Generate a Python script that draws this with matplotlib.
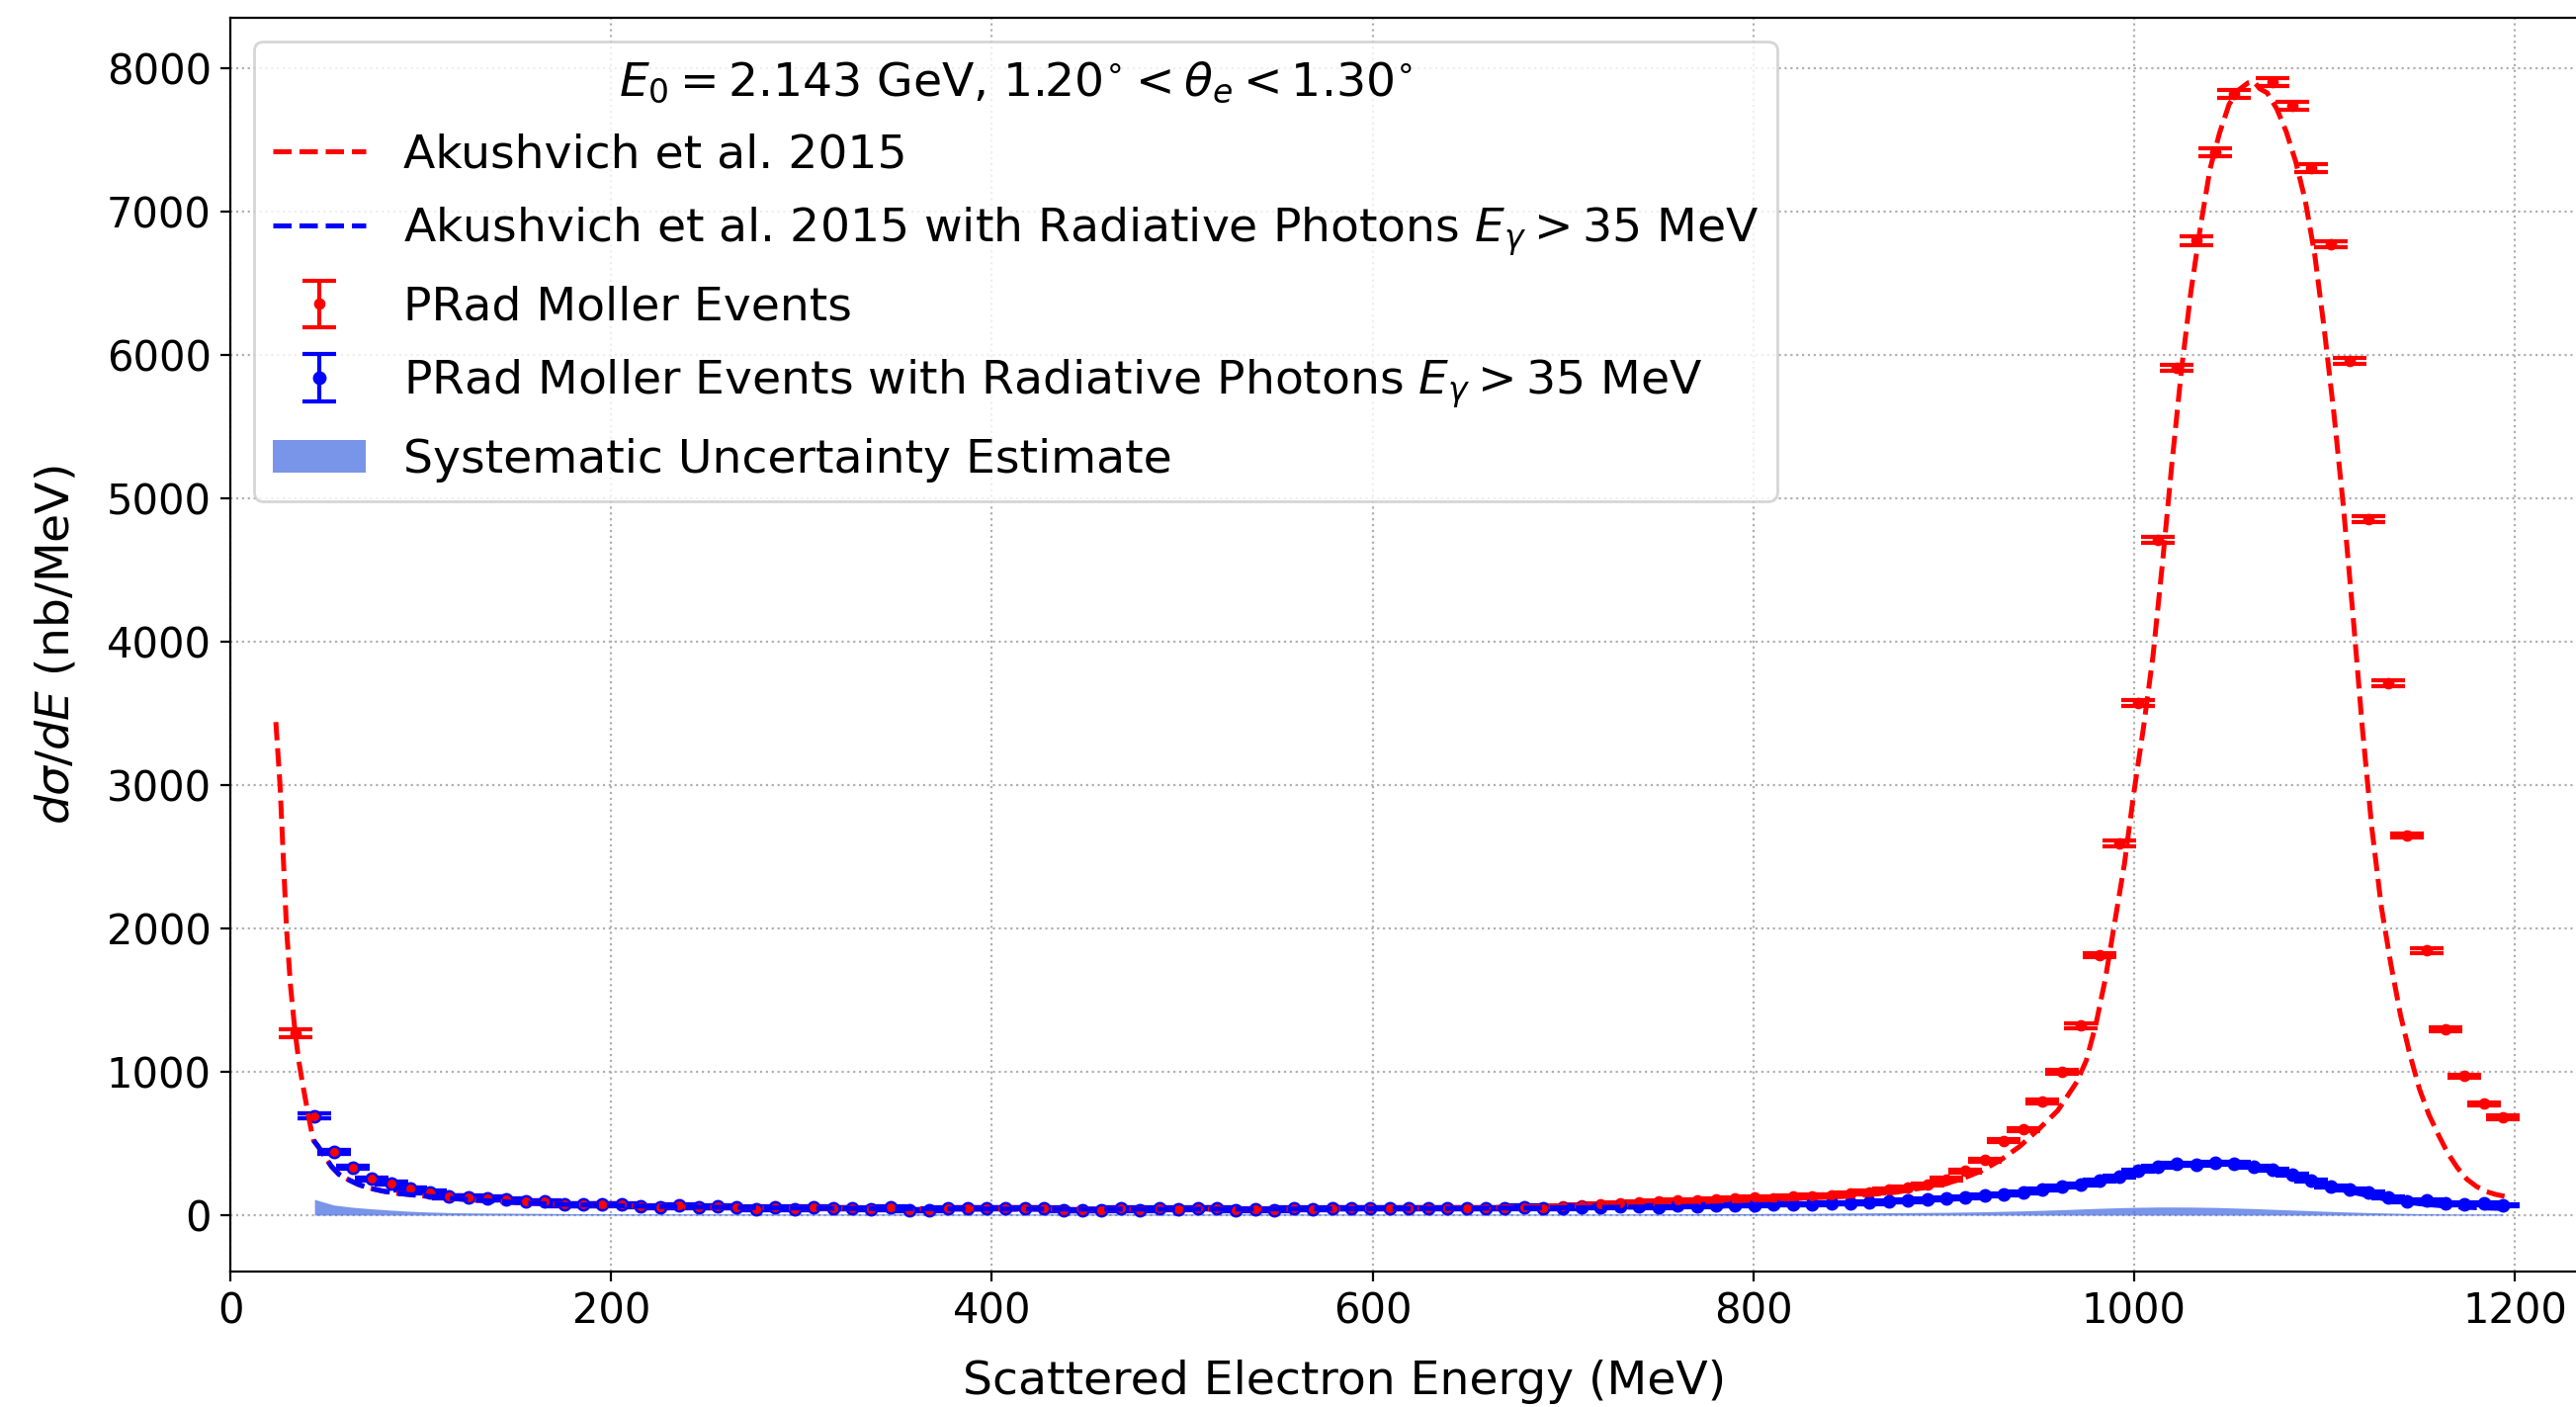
import matplotlib
matplotlib.use("Agg")
import matplotlib.pyplot as plt
import numpy as np

# bin centres of the measured spectrum (MeV)
energy = np.linspace(34, 1194, 116)

# PRad Moller events with radiative photons E_gamma > 35 MeV
blue_pts = [np.nan, 691, 439, 332, 252, 224, 185, 162, 128, 126, 117, 108, 96, 94, 73, 73,
            73, 76, 64, 55, 66, 55, 59, 57, 43, 55, 43, 55, 46, 46, 43, 55, 34, 34, 46, 46, 46,
            46, 46, 46, 35, 35, 35, 46, 35, 46, 39, 46, 46, 35, 39, 35, 46, 39, 46, 46, 46,
            46, 46, 46, 46, 46, 46, 46, 58, 46, 46, 58, 58, 62, 62, 58, 67, 62, 70, 67,
            67, 78, 78, 78, 83, 85, 87, 97, 101, 108, 117, 124, 136, 145, 159, 177, 200, 212,
            242, 269, 310, 338, 356, 350, 366, 361, 338, 315, 281, 242, 200, 177, 159, 126,
            97, 103, 80, 74, 85, 71]

# PRad Moller events (all)
red_pts = [1270, 691, 439, 332, 252, 224, 185, 162, 128, 126, 117, 108, 96, 94, 73, 73,
           73, 76, 64, 55, 66, 55, 59, 57, 43, 55, 43, 55, 46, 46, 43, 55, 34, 34, 46, 46, 46,
           46, 46, 46, 35, 35, 35, 46, 35, 46, 39, 46, 46, 35, 39, 35, 46, 39, 46, 46, 46,
           46, 46, 46, 46, 46, 46, 46, 58, 46,
           60, 67, 75, 82, 90, 97, 102, 105, 110, 115,
           122, 120, 128, 134, 140, 150, 162, 178, 195, 215,
           251, 310, 384, 520, 598, 795, 1002, 1321, 1815, 2592,
           3574, 4714, 5909, 6798, 7413, 7822, np.nan, 7903, 7737, 7305,
           6773, 5959, 4858, 3712, 2648, 1847, 1296, 970, 776, 682]

red_err = ([25, 18, 14] + [11] * 8 + [8] * 75 + [10] * 5 + [14] * 4 + [20] * 4
           + [28] * 7 + [22] * 4 + [16] * 3 + [12] * 3)
blue_err = [25, 18, 14] + [11] * 8 + [8] * 105

# systematic uncertainty band (from second bin on)
sys_err = [110, 71, 55, 44, 35, 27, 22, 18, 16, 15, 14, 13, 12, 11, 10, 10, 9, 9, 9, 9,
           9, 9, 9, 9, 8, 8, 8, 8, 8, 8, 8, 8, 8, 8, 8, 8, 8, 8, 8, 8,
           8, 8, 8, 8, 8, 8, 8, 8, 8, 8, 8, 8, 8, 8, 8, 8, 8, 8, 8, 8,
           8, 8, 8, 8, 8, 8, 8, 8, 8, 9, 9, 9, 10, 10, 11, 11, 12, 12, 13, 14,
           15, 16, 17, 18, 19, 20, 22, 24, 27, 30, 34, 38, 43, 48, 52, 55, 57, 57, 56, 54,
           50, 46, 41, 36, 31, 26, 22, 18, 15, 12, 10, 9, 8, 8, 8]

# Akushevich et al. 2015 calculation
theo_e = [23.8, 26, 29.4, 31.5, 33.8, 35.8, 37.8, 40, 42, 43.6, 46, 49, 53, 57, 62, 67,
          72.6, 80, 88.5, 99, 110, 120, 130, 140, 150, 160, 175, 200, 225, 250, 300, 350,
          400, 450, 500, 550, 600, 650, 700, 725, 750, 775, 800, 825, 850, 875, 900, 910,
          920, 930, 940, 950, 960, 965, 970, 975, 980, 985, 990, 995, 1000, 1005, 1010,
          1015, 1020, 1025, 1030, 1035, 1040, 1045, 1050, 1055, 1060, 1063, 1066, 1070,
          1075, 1080, 1085, 1090, 1095, 1100, 1105, 1110, 1115, 1120, 1125, 1130, 1135,
          1140, 1145, 1150, 1155, 1160, 1165, 1170, 1175, 1180, 1185, 1190, 1197]
theo_red = [3440, 3000, 2000, 1600, 1290, 1080, 920, 760, 620, 522, 480, 420, 340, 285, 247,
            215, 190, 168, 151, 137, 125, 113, 104, 97, 88, 82, 75, 67, 61, 56, 49, 45,
            43, 42, 42, 43, 45, 50, 62, 70, 80, 92, 105, 118, 132, 160, 215, 255,
            310, 385, 480, 600, 730, 830, 930, 1080, 1330, 1650, 2050, 2450, 2950, 3400, 3900,
            4550, 5250, 5900, 6450, 6900, 7300, 7550, 7750, 7850, 7900, 7910, 7860, 7830,
            7720, 7560, 7350, 7080, 6700, 6180, 5600, 4950, 4200, 3400, 2700, 2150, 1750,
            1400, 1120, 880, 700, 560, 430, 330, 250, 200, 165, 145, 125]

# Akushevich et al. 2015 with radiative photons E_gamma > 35 MeV
rad_e = [43.6, 46, 49, 53, 57, 62, 67, 72.6, 80, 88.5, 99, 110, 120, 130, 140, 150, 160,
         175, 200, 225, 250, 300, 350, 400, 450, 500, 550, 600, 650, 700, 750, 800, 850,
         880, 900, 920, 940, 960, 980, 1000, 1010, 1020, 1030, 1040, 1050, 1060, 1070,
         1080, 1090, 1100, 1110, 1120, 1130, 1140, 1150, 1160, 1170, 1180, 1190, 1197]
rad_theo = [522, 480, 420, 340, 285, 247, 215, 190, 168, 151, 137, 125, 113, 104, 97, 88,
            82, 75, 67, 61, 56, 49, 45, 43, 42, 42, 43, 45, 48, 52, 58, 67, 82, 95, 108,
            125, 150, 190, 240, 300, 330, 352, 362, 368, 364, 348, 322, 290, 252, 212, 175,
            145, 118, 96, 80, 68, 58, 52, 48, 46]

plt.rcParams['font.family'] = 'DejaVu Sans'
fig = plt.figure(figsize=(13.03, 7.115), dpi=200)
ax = fig.add_axes([0.0895, 0.0963, 0.931, 0.8908])

band = ax.fill_between(energy[1:], 0, sys_err, color='royalblue', alpha=0.7, lw=0,
                       zorder=2, label='Systematic Uncertainty Estimate')
eb_red = ax.errorbar(energy, red_pts, yerr=red_err, fmt='o', color='red', ms=3.2,
                     elinewidth=1.5, capsize=6, capthick=1.5, zorder=3,
                     label='PRad Moller Events')
eb_blue = ax.errorbar(energy, blue_pts, yerr=blue_err, fmt='o', color='blue', ms=4,
                      elinewidth=1.5, capsize=6, capthick=1.5, zorder=4,
                      label=r'PRad Moller Events with Radiative Photons $E_{\gamma} > 35$ MeV')
ax.plot(energy, red_pts, 'o', color='red', ms=2.2, zorder=5)
ln_red, = ax.plot(theo_e, theo_red, '--', color='red', lw=1.8, zorder=5,
                  label='Akushvich et al. 2015')
ln_blue, = ax.plot(rad_e, rad_theo, '--', color='blue', lw=1.8, zorder=6,
                   label=r'Akushvich et al. 2015 with Radiative Photons $E_{\gamma} > 35$ MeV')

ax.set_xlim(0, 1260)
ax.set_ylim(-393, 8351)
ax.set_xticks([0, 200, 400, 600, 800, 1000, 1200])
ax.set_yticks(range(0, 8001, 1000))
ax.tick_params(labelsize=15)
ax.grid(True, linestyle=':', color='#b0b0b0')
ax.set_axisbelow(True)
ax.set_xlabel('Scattered Electron Energy (MeV)', fontsize=17, labelpad=10)
ax.xaxis.label.set_x(0.4644)
ax.set_ylabel(r'$d\sigma/dE$ (nb/MeV)', fontsize=17, labelpad=10)

ax.legend(handles=[ln_red, ln_blue, eb_red, eb_blue, band], loc='upper left',
          fontsize=17, title_fontsize=17, labelspacing=0.59,
          title=r'$E_0 = 2.143$ GeV, $1.20^{\circ} < \theta_e < 1.30^{\circ}$')

fig.savefig('out.png', dpi=200)
